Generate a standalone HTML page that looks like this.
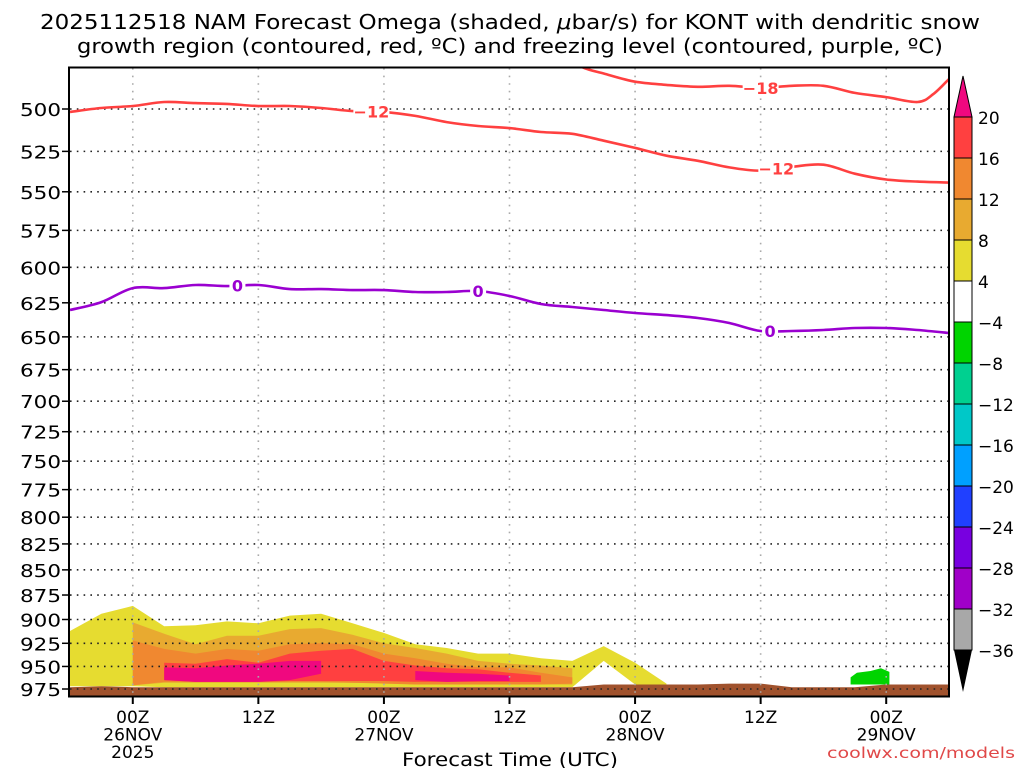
<!DOCTYPE html>
<html><head><meta charset="utf-8"><style>
html,body{margin:0;padding:0;background:#fff;}
svg{display:block;font-family:"DejaVu Sans","Liberation Sans",sans-serif;}
</style></head><body>
<svg id="chart" width="1024" height="768" viewBox="0 0 1024 768">
<text x="40" y="29" font-size="20" textLength="940" lengthAdjust="spacingAndGlyphs">2025112518 NAM Forecast Omega (shaded, <tspan font-style="italic">μ</tspan>bar/s) for KONT with dendritic snow</text>
<text x="77" y="53" font-size="20" textLength="866" lengthAdjust="spacingAndGlyphs">growth region (contoured, red, ºC) and freezing level (contoured, purple, ºC)</text>
<defs><clipPath id="plotclip"><rect x="70" y="68" width="879" height="628"/></clipPath></defs>
<g id="shade" clip-path="url(#plotclip)"></g>
<g id="grid"></g>
<g id="contours" clip-path="url(#plotclip)"></g>
<rect x="69" y="67.5" width="880" height="629" fill="none" stroke="#000" stroke-width="2"/>
<g id="yaxis"></g>
<g id="xaxis"></g>
<text x="402" y="766" font-size="19" textLength="216" lengthAdjust="spacingAndGlyphs">Forecast Time (UTC)</text>
<text x="827" y="758" font-size="15" textLength="188" lengthAdjust="spacingAndGlyphs" fill="#e04848">coolwx.com/models</text>
<g id="cbar"></g>
</svg>
<script>
// ---- data ----
const bandHours = [0,3,6,9,12,15,18,21,24,27,30,33,36,39,42,45,48,51,54,57,60];
const yellowTop = [912,894,886,907,906,902,904,896,894,904,914,926,930,936,936,941,944,928,946,969,null];
const yellowBot = [972,972,972,973,973,973,973,973,973,973,973,973,973,973,973,973,973,944,970,970,null];
const lorangeTop = [null,null,903,915,926,917,917,910,909,916,925,930,936,944,947,949,952,null,null,null,null];
const lorangeBot = [null,null,971,968,968,968,968,968,968,968,968,970,970,970,970,970,970,null,null,null,null];
const orangeTop = [null,null,922,931,936,931,933,926,925,926,936,941,947,951,951,957,962,null,null,null,null];
const orangeBot = [null,null,971,967,967,967,967,967,967,968,969,970,970,970,970,970,969,null,null,null,null];
const redTop = [null,null,null,946,947,942,946,936,933,931,944,949,952,953,957,960,null,null,null,null,null];
const redBot = [null,null,null,965,967,967,967,966,966,966,966,967,967,967,967,967,null,null,null,null,null];
const magTop = [null,null,null,951,952,949,947,944,944,null,null,955,957,958,960,null,null,null,null,null,null];
const magBot = [null,null,null,965,967,967,967,965,958,null,null,965,967,966,966,null,null,null,null,null,null];
const greenHours = [74.6,75.2,76.5,77.5,78.3];
const greenTop = [962,957,955,952,956];
const greenBot = [970,970,970,970,970];
const lineHours = [0,3,6,9,12,15,18,21,24,27,30,33,36,39,42,45,48,51,54,57,60,63,66,69,72,75,78,81,84];
const surface = [973,972,973,973,973,973,973,973,973,973,973,973,973,973,973,973,973,970,970,970,970,969,969,973,973,973,970,970,970];
const minus12 = [501.7,499.4,498.3,496,496.6,497.1,498.3,498.3,499.4,501.2,501.7,504,507.6,509.9,511.1,513.4,514.5,518.6,522.9,527.6,530.7,534.8,536.8,534.4,533.1,538.7,542.3,543.6,544.2];
const m18Hours = [47,49,51,54,57,60,63,66,69,72,75,78,81,82.5,84];
const minus18 = [470,476.6,480,484.5,486.3,487.4,486.8,488,486.8,486.8,490.8,493.2,496,491.5,483];
const zeroLine = [630.2,624.5,614.5,614.5,612.3,613.1,612.3,615.2,615.2,615.9,615.9,617.3,617.3,616.6,620.1,625.9,628,630.2,632.4,633.9,636,639.7,645.6,645.6,644.9,643.4,643.4,644.9,647.1];
const yTicks = [500,525,550,575,600,625,650,675,700,725,750,775,800,825,850,875,900,925,950,975];
const xTickHours = [6,18,30,42,54,66,78];
const xTickLabels = [["00Z","26NOV","2025"],["12Z"],["00Z","27NOV"],["12Z"],["00Z","28NOV"],["12Z"],["00Z","29NOV"]];
const cbLevels = ["20","16","12","8","4","\u22124","\u22128","\u221212","\u221216","\u221220","\u221224","\u221228","\u221232","\u221236"];
const cbColors = ["#ff4040","#f08830","#e8aa30","#e6dc30","#ffffff","#00d400","#00d090","#00c8c8","#00a0ff","#2040ff","#7800e0","#a000c8","#a8a8a8"];

// ---- scales ----
const X0=70, X1=949;
function xs(h){return X0+h*(X1-X0)/84;}
function ys(p){return 109+868.5*Math.log(p/500);}
const NS="http://www.w3.org/2000/svg";
function mk(tag,attrs,parent){const e=document.createElementNS(NS,tag);for(const k in attrs)e.setAttribute(k,attrs[k]);parent.appendChild(e);return e;}
function smoothPath(pts){
  let d='M'+pts[0][0].toFixed(1)+','+pts[0][1].toFixed(1);
  for(let i=0;i<pts.length-1;i++){
    const p0=pts[i-1]||pts[i],p1=pts[i],p2=pts[i+1],p3=pts[i+2]||p2;
    const c1=[p1[0]+(p2[0]-p0[0])/6,p1[1]+(p2[1]-p0[1])/6];
    const c2=[p2[0]-(p3[0]-p1[0])/6,p2[1]-(p3[1]-p1[1])/6];
    d+='C'+c1[0].toFixed(1)+','+c1[1].toFixed(1)+' '+c2[0].toFixed(1)+','+c2[1].toFixed(1)+' '+p2[0].toFixed(1)+','+p2[1].toFixed(1);
  }
  return d;
}

const shade=document.getElementById('shade');
function band(hours,top,bot,color,name){
  let seg=[];
  const segs=[];
  for(let i=0;i<hours.length;i++){
    if(top[i]==null){if(seg.length)segs.push(seg);seg=[];}
    else seg.push(i);
  }
  if(seg.length)segs.push(seg);
  segs.forEach(s=>{
    if(s.length<2)return;
    let d='';
    s.forEach((i,k)=>{d+=(k?'L':'M')+xs(hours[i]).toFixed(1)+','+ys(top[i]).toFixed(1);});
    for(let k=s.length-1;k>=0;k--){const i=s[k];d+='L'+xs(hours[i]).toFixed(1)+','+ys(bot[i]).toFixed(1);}
    d+='Z';
    const p=mk('path',{d:d,fill:color,'stroke-linejoin':'round'},shade);
    
    
  });
}
band(bandHours,yellowTop,yellowBot,'#e6dc30','omega-4-8-band');
band(bandHours,lorangeTop,lorangeBot,'#e8aa30','omega-8-12-band');
band(bandHours,orangeTop,orangeBot,'#f08830','omega-12-16-band');
band(bandHours,redTop,redBot,'#ff4040','omega-16-20-band');
band(bandHours,magTop,magBot,'#f0087f','omega-over-20-band');
band(greenHours,greenTop,greenBot,'#00d400','omega-neg4-neg8-band');
// ground
{
  let d='M'+xs(0)+',700';
  lineHours.forEach((h,i)=>{d+='L'+xs(h).toFixed(1)+','+ys(surface[i]).toFixed(1);});
  d+='L'+xs(84)+',700Z';
  const g=mk('path',{d:d,fill:'#a0522d'},shade);
  
  
}
// grid
const grid=document.getElementById('grid');
yTicks.forEach(p=>{
  const l=mk('line',{x1:70,x2:949,y1:ys(p),y2:ys(p),stroke:'#222','stroke-width':1.6,'stroke-dasharray':'1.6,5.2'},grid);
  
  
});
xTickHours.forEach(h=>{
  const l=mk('line',{x1:xs(h),x2:xs(h),y1:68,y2:696,stroke:'#aaa','stroke-width':1.6,'stroke-dasharray':'1.6,6'},grid);
  
  
});
// contours
const cont=document.getElementById('contours');
function cline(hours,vals,color,name){
  const pts=hours.map((h,i)=>[xs(h),ys(vals[i])]);
  const p=mk('path',{d:smoothPath(pts),fill:'none',stroke:color,'stroke-width':2.6,'stroke-linejoin':'round'},cont);
  
  
}
cline(lineHours,minus12,'#ff4040','contour-minus12');
cline(m18Hours,minus18,'#ff4040','contour-minus18');
cline(lineHours,zeroLine,'#9a00d0','freezing-level-contour');
function clabel(h,vals,hrs,txt,color){
  let v=vals[0];
  for(let i=0;i<hrs.length-1;i++){if(h>=hrs[i]&&h<=hrs[i+1]){const t=(h-hrs[i])/(hrs[i+1]-hrs[i]);v=vals[i]+t*(vals[i+1]-vals[i]);}}
  const x=xs(h),y=ys(v);
  const w=txt.length*10+6;
  const r=mk('rect',{x:x-w/2,y:y-8,width:w,height:16,fill:'#fff'},cont);
  
  
  const t=mk('text',{x:x,y:y+6,'text-anchor':'middle','font-size':16,'font-weight':'bold',fill:color},cont);
  t.textContent=txt;
  
  
}
clabel(28.8,minus12,lineHours,'\u221212','#ff4040');
clabel(67.5,minus12,lineHours,'\u221212','#ff4040');
clabel(66,minus18,m18Hours,'\u221218','#ff4040');
clabel(16,zeroLine,lineHours,'0','#9a00d0');
clabel(39,zeroLine,lineHours,'0','#9a00d0');
clabel(66.9,zeroLine,lineHours,'0','#9a00d0');
// y axis
const ya=document.getElementById('yaxis');
yTicks.forEach(p=>{
  const y=ys(p);
  const tk=mk('line',{x1:62,x2:69,y1:y,y2:y,stroke:'#000','stroke-width':1.5},ya);
  
  
  const t=mk('text',{x:20,y:y+7,'font-size':18,textLength:41,lengthAdjust:'spacingAndGlyphs'},ya);
  t.textContent=p;
  
  
});
// x axis
const xa=document.getElementById('xaxis');
xTickHours.forEach((h,i)=>{
  const x=xs(h);
  const tk=mk('line',{x1:x,x2:x,y1:696,y2:704,stroke:'#000','stroke-width':2},xa);
  
  
  xTickLabels[i].forEach((s,k)=>{
    const t=mk('text',{x:x,y:723+k*17.5,'text-anchor':'middle','font-size':17},xa);
    t.textContent=s;
    
    
  });
});
// colorbar
const cb=document.getElementById('cbar');
const cbX=954,cbW=18,cbTop=117,cbStep=41;
{
  const a=mk('path',{d:`M${cbX},${cbTop} L${cbX+cbW/2},76 L${cbX+cbW},${cbTop}Z`,fill:'#f0087f',stroke:'#000','stroke-width':1},cb);
  
  
}
cbColors.forEach((c,i)=>{
  const r=mk('rect',{x:cbX,y:cbTop+i*cbStep,width:cbW,height:cbStep,fill:c,stroke:'#000','stroke-width':1},cb);
  
  
});
{
  const yb=cbTop+cbColors.length*cbStep;
  const a=mk('path',{d:`M${cbX},${yb} L${cbX+cbW/2},${yb+42} L${cbX+cbW},${yb}Z`,fill:'#000'},cb);
  
  
}
cbLevels.forEach((s,i)=>{
  const t=mk('text',{x:978,y:cbTop+i*cbStep+7,'font-size':17},cb);
  t.textContent=s;
  
  
});
</script>
</body></html>
